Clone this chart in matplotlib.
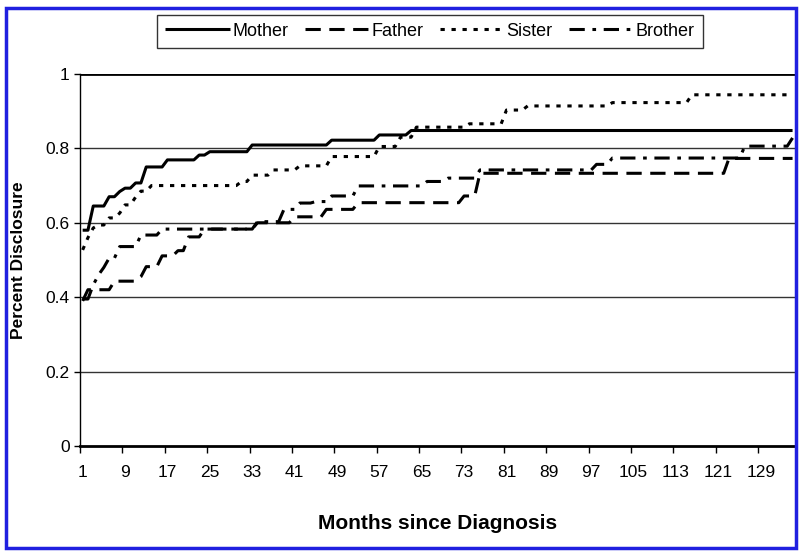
import matplotlib.pyplot as plt
from matplotlib.patches import Rectangle

plt.rcParams['font.family'] = ['Liberation Sans Narrow', 'Liberation Sans', 'DejaVu Sans']

# Change points (month, cumulative proportion disclosed)
last_month = 135

mother_months = [1, 3, 6, 8, 9, 11, 13, 17, 23, 25, 33, 48, 57, 63]
mother_vals = [0.58, 0.645, 0.67, 0.684, 0.693, 0.707, 0.75, 0.769, 0.782, 0.791,
               0.809, 0.822, 0.836, 0.848]

father_months = [1, 2, 7, 12, 13, 16, 19, 21, 24, 34, 41, 47, 53, 73, 76, 123]
father_vals = [0.39, 0.42, 0.443, 0.455, 0.482, 0.511, 0.525, 0.562, 0.583, 0.60,
               0.616, 0.636, 0.654, 0.672, 0.733, 0.773]

sister_months = [1, 2, 3, 4, 6, 8, 9, 11, 12, 14, 31, 33, 37, 42, 48, 57, 61, 64,
                 74, 81, 85, 101, 116]
sister_vals = [0.527, 0.56, 0.586, 0.594, 0.613, 0.626, 0.648, 0.669, 0.685, 0.70,
               0.711, 0.728, 0.742, 0.753, 0.778, 0.805, 0.83, 0.857, 0.866, 0.903,
               0.914, 0.923, 0.944]

brother_months = [1, 3, 4, 5, 6, 8, 12, 16, 34, 39, 42, 45, 48, 53, 66, 70, 76, 98,
                  101, 126, 135]
brother_vals = [0.395, 0.433, 0.46, 0.48, 0.505, 0.536, 0.567, 0.583, 0.603, 0.636,
                0.653, 0.657, 0.672, 0.699, 0.711, 0.72, 0.742, 0.757, 0.774, 0.806,
                0.828]

tick_labels = [str(m) for m in range(1, 130, 8)]


def monthly_path(months, vals):
    # value holds until the month before the next change, rising over one month
    xs, ys = [months[0]], [vals[0]]
    for i in range(1, len(months)):
        if months[i] - 1 > xs[-1]:
            xs.append(months[i] - 1)
            ys.append(vals[i - 1])
        xs.append(months[i])
        ys.append(vals[i])
    if xs[-1] < last_month:
        xs.append(last_month)
        ys.append(vals[-1])
    return xs, ys


fig = plt.figure(figsize=(8, 5.54), dpi=100)
ax = fig.add_axes([0.1, 0.195, 0.894, 0.6715])

series = [
    ("Mother", mother_months, mother_vals, '-'),
    ("Father", father_months, father_vals, (0, (5, 2.8))),
    ("Sister", sister_months, sister_vals, (0, (1.4, 2.2))),
    ("Brother", brother_months, brother_vals, (0, (5, 2.5, 1.2, 2.5))),
]
for name, months, vals, ls in series:
    xs, ys = monthly_path(months, vals)
    ax.plot(xs, ys, color='black', linestyle=ls, linewidth=2.2, label=name,
            solid_capstyle='butt', dash_capstyle='butt')

ax.set_xlim(0.5, last_month + 0.5)
ax.set_ylim(0, 1)
ax.set_yticks([0, 0.2, 0.4, 0.6, 0.8, 1])
ax.set_yticklabels(['0', '0.2', '0.4', '0.6', '0.8', '1'], fontsize=12.5)
ax.set_xticks(range(1, 130, 8))
ax.set_xticklabels(tick_labels, fontsize=12.5)
ax.set_xticks([0.5 + 8 * k for k in range(17)], minor=True)
ax.tick_params(axis='x', which='major', length=0, pad=14)
ax.tick_params(axis='x', which='minor', length=5, width=1)
ax.tick_params(axis='y', length=4, width=1)

for y in [0.2, 0.4, 0.6, 0.8]:
    ax.axhline(y, color='#333333', linewidth=1.0, zorder=0)
ax.axhline(1, color='black', linewidth=2.0, zorder=0)

for side in ['top', 'right']:
    ax.spines[side].set_visible(False)
ax.spines['bottom'].set_linewidth(2.0)
ax.spines['left'].set_linewidth(1.0)

ax.set_xlabel("Months since Diagnosis", fontsize=15, fontweight='bold', labelpad=24)
ax.set_ylabel("Percent Disclosure", fontsize=12.5, fontweight='bold', labelpad=14)

leg = fig.legend(loc='upper center', bbox_to_anchor=(0.5375, 0.99), ncol=4,
                 fontsize=13, frameon=True, fancybox=False, handlelength=3.6,
                 handletextpad=0.1, columnspacing=0.9, borderpad=0.45)
leg.get_frame().set_edgecolor('black')
leg.get_frame().set_linewidth(1.0)

fig.patches.append(Rectangle((0.007, 0.01), 0.988, 0.975, transform=fig.transFigure,
                             fill=False, edgecolor='#2020e0', linewidth=2.5))

fig.savefig('out.png', dpi=100)
